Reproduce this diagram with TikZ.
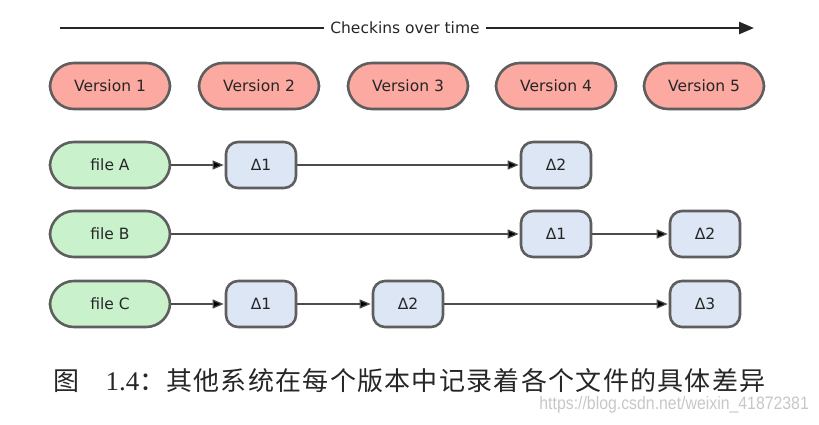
\documentclass[tikz,border=0pt]{standalone}
\usepackage{fontspec}
\setmainfont{DejaVu Sans}
\newfontfamily\cjk{Noto Sans CJK SC}
\newfontfamily\serifnum{Liberation Serif}
\newfontfamily\wmfont{Liberation Sans}
\usetikzlibrary{arrows.meta}
\definecolor{vfill}{HTML}{FBA9A1}
\definecolor{ffill}{HTML}{C9F2CC}
\definecolor{dfill}{HTML}{DCE6F4}
\definecolor{bord}{HTML}{5E5E5E}
\tikzset{
  verbox/.style={draw=bord, line width=2.6pt, fill=vfill, rounded corners=24pt, minimum width=120pt, minimum height=46pt, font=\fontsize{15.5}{18}\selectfont, text=black!85},
  filebox/.style={verbox, fill=ffill},
  dbox/.style={draw=bord, line width=2.6pt, fill=dfill, rounded corners=12pt, minimum width=70pt, minimum height=46pt, font=\fontsize{15.5}{18}\selectfont, text=black!85},
  link/.style={draw=black!70, line width=1.2pt, -{Triangle[length=11pt,width=9pt,fill=black]}, shorten >=1pt},
}
\begin{document}
\begin{tikzpicture}[x=1pt,y=-1pt]
\useasboundingbox (0,0) rectangle (819,424);
% time axis
\node[font=\fontsize{15.5}{18}\selectfont, text=black!85, inner xsep=6pt] (ttl) at (405,28) {Checkins over time};
\coordinate (tstart) at (60,28);
\coordinate (tend) at (754,28);
\draw[line width=2.4pt, black!85] (tstart) -- (ttl.west);
\draw[line width=2.4pt, black!85, -{Triangle[length=15pt,width=12pt]}] (ttl.east) -- (tend);
% versions
\node[verbox] (v1) at (110,86) {Version 1};
\node[verbox] (v2) at (259,86) {Version 2};
\node[verbox] (v3) at (408,86) {Version 3};
\node[verbox] (v4) at (556,86) {Version 4};
\node[verbox] (v5) at (704,86) {Version 5};
% files
\node[filebox] (fa) at (110,165) {file A};
\node[filebox] (fb) at (110,234) {file B};
\node[filebox] (fc) at (110,304) {file C};
% deltas
\node[dbox] (a1) at (261,165) {Δ1};
\node[dbox] (a2) at (556,165) {Δ2};
\node[dbox] (b1) at (556,234) {Δ1};
\node[dbox] (b2) at (705,234) {Δ2};
\node[dbox] (c1) at (261,304) {Δ1};
\node[dbox] (c2) at (408,304) {Δ2};
\node[dbox] (c3) at (705,304) {Δ3};
% links
\draw[link] (fa) -- (a1);
\draw[link] (a1) -- (a2);
\draw[link] (fb) -- (b1);
\draw[link] (b1) -- (b2);
\draw[link] (fc) -- (c1);
\draw[link] (c1) -- (c2);
\draw[link] (c2) -- (c3);
% caption
\node[anchor=west, font=\cjk\fontsize{26}{30}\selectfont, text=black!85] (cap) at (50,381) {图\hspace{26pt}{\serifnum\fontsize{27}{30}\selectfont 1.4}：\hspace{1pt}\addfontfeature{LetterSpace=5}其他系统在每个版本中记录着各个文件的具体差异};
\node[anchor=east, font=\wmfont\fontsize{18}{20}\selectfont, text=black!22, xscale=0.88] (wm) at (812,405) {https://blog.csdn.net/weixin\_41872381};
\end{tikzpicture}
\end{document}
